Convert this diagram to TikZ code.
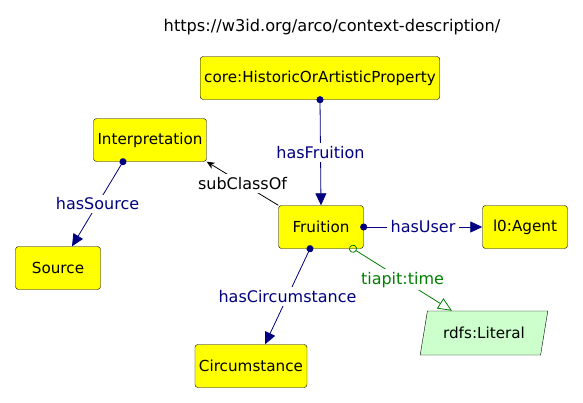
\documentclass[tikz,border=0pt]{standalone}
\usepackage{fontspec}
\setmainfont{DejaVu Sans}
\usetikzlibrary{arrows.meta,shapes.geometric}
\definecolor{amarelo}{HTML}{FFFF00}
\definecolor{azulprop}{HTML}{000080}
\definecolor{verdedado}{HTML}{008000}
\definecolor{verdelit}{HTML}{CCFFCC}
\begin{document}
\begin{tikzpicture}[
  x=1pt, y=-1pt,
  every node/.style={font=\fontsize{15.2}{18}\selectfont},
  classe/.style={rectangle, rounded corners=3pt, draw=black, fill=amarelo, minimum width=85pt, minimum height=43pt, inner xsep=4pt},
  literal/.style={trapezium, trapezium left angle=73, trapezium right angle=107, trapezium stretches=true, draw=black, fill=verdelit, minimum width=128pt, minimum height=44pt},
  objprop/.style={draw=azulprop, line width=0.8pt, shorten <=-3.5pt, {Circle[length=7pt]}-{Triangle[length=12pt,width=11pt]}},
  dataprop/.style={draw=verdedado, line width=0.8pt, shorten <=-4pt, {Circle[open,length=8pt]}-{Triangle[open,length=14pt,width=12pt]}},
  subclasse/.style={draw=black, line width=0.8pt, -{Stealth[length=8pt,width=7pt]}},
  rotulo/.style={fill=white, inner xsep=4pt, inner ysep=3pt, text=azulprop, font=\fontsize{16}{19}\selectfont},
  rotulodado/.style={fill=white, inner xsep=4pt, inner ysep=3pt, text=verdedado, font=\fontsize{16}{19}\selectfont}
]
\useasboundingbox (0,0) rectangle (583,402);
\node[font=\fontsize{16.2}{19}\selectfont] (titulo) at (332,27) {https://w3id.org/arco/context-description/};
\node[classe] (HOAP) at (320,78) {core:HistoricOrArtisticProperty};
\node[classe] (Interp) at (150,140) {Interpretation};
\node[classe] (Fruit) at (321,227) {Fruition};
\node[classe] (Agente) at (525,227) {l0:Agent};
\node[classe] (Fonte) at (58,268) {Source};
\node[literal] (Lit) at (484,333) {rdfs:Literal};
\node[classe] (Circ) at (251,366) {Circumstance};
\draw[objprop] (HOAP.south) -- (Fruit.north) node[midway, rotulo] {hasFruition};
\draw[subclasse] (Fruit.north west) -- (Interp.south east) node[midway, fill=white, inner xsep=4pt, inner ysep=3pt, font=\fontsize{16}{19}\selectfont] {subClassOf};
\draw[objprop] ([xshift=-27pt]Interp.south) -- ([xshift=14pt]Fonte.north) node[midway, rotulo] {hasSource};
\draw[objprop] (Fruit.east) -- (Agente.west) node[midway, rotulo] {hasUser};
\draw[objprop] ([xshift=-11pt]Fruit.south) -- ([xshift=14pt]Circ.north) node[midway, rotulo] {hasCircumstance};
\draw[dataprop] ([xshift=32pt]Fruit.south) -- ([xshift=-32pt]Lit.north) node[midway, rotulodado] {tiapit:time};
\end{tikzpicture}
\end{document}
